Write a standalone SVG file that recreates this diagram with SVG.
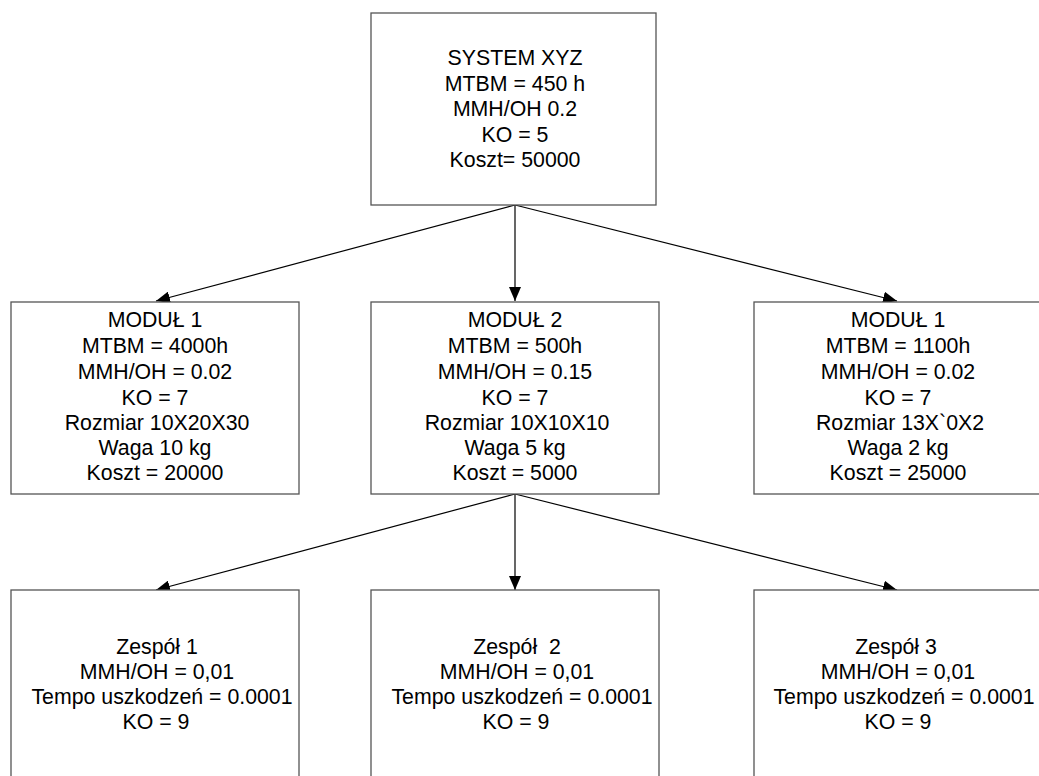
<svg xmlns="http://www.w3.org/2000/svg" width="1039" height="776" viewBox="0 0 1039 776">
<style>
.box{fill:#fff;stroke:#555;stroke-width:1.3}
.t{font-family:"Liberation Sans",Arial,sans-serif;font-size:21.3px;fill:#000;text-anchor:middle}
.c{stroke:#000;stroke-width:1.2;fill:none;marker-end:url(#ah)}
</style>
<defs>
<marker id="ah" markerUnits="userSpaceOnUse" markerWidth="14" markerHeight="12" viewBox="0 0 14 12" refX="14" refY="6" orient="auto">
<path d="M0,0 L14,6 L0,12 Z" fill="#000"/>
</marker>
</defs>
<rect width="1039" height="776" fill="#fff"/>
<g id="connectors">
<line class="c" x1="515" y1="205" x2="156" y2="301"/>
<line class="c" x1="515" y1="205" x2="515" y2="301"/>
<line class="c" x1="515" y1="205" x2="897" y2="301"/>
<line class="c" x1="515" y1="494" x2="156" y2="590"/>
<line class="c" x1="515" y1="494" x2="515" y2="590"/>
<line class="c" x1="515" y1="494" x2="897" y2="590"/>
</g>
<g id="system">
<rect class="box" x="371" y="13" width="285" height="192"/>
<text class="t" x="515" y="65">SYSTEM XYZ</text>
<text class="t" x="515" y="91">MTBM = 450 h</text>
<text class="t" x="515" y="116">MMH/OH 0.2</text>
<text class="t" x="515" y="142">KO = 5</text>
<text class="t" x="515" y="167">Koszt= 50000</text>
</g>
<g id="modul1">
<rect class="box" x="11" y="302" width="288" height="192"/>
<text class="t" x="155" y="327">MODUŁ 1</text>
<text class="t" x="155" y="353">MTBM = 4000h</text>
<text class="t" x="155" y="379">MMH/OH = 0.02</text>
<text class="t" x="155" y="405">KO = 7</text>
<text class="t" x="157" y="430">Rozmiar 10X20X30</text>
<text class="t" x="155" y="455">Waga 10 kg</text>
<text class="t" x="155" y="480">Koszt = 20000</text>
</g>
<g id="modul2">
<rect class="box" x="371" y="302" width="288" height="192"/>
<text class="t" x="515" y="327">MODUŁ 2</text>
<text class="t" x="515" y="353">MTBM = 500h</text>
<text class="t" x="515" y="379">MMH/OH = 0.15</text>
<text class="t" x="515" y="405">KO = 7</text>
<text class="t" x="517" y="430">Rozmiar 10X10X10</text>
<text class="t" x="515" y="455">Waga 5 kg</text>
<text class="t" x="515" y="480">Koszt = 5000</text>
</g>
<g id="modul3">
<rect class="box" x="754" y="302" width="288" height="192"/>
<text class="t" x="898" y="327">MODUŁ 1</text>
<text class="t" x="898" y="353">MTBM = 1100h</text>
<text class="t" x="898" y="379">MMH/OH = 0.02</text>
<text class="t" x="898" y="405">KO = 7</text>
<text class="t" x="900" y="430">Rozmiar 13X`0X2</text>
<text class="t" x="898" y="455">Waga 2 kg</text>
<text class="t" x="898" y="480">Koszt = 25000</text>
</g>
<g id="zespol1">
<rect class="box" x="11" y="590" width="288" height="200"/>
<text class="t" x="157" y="654">Zespół 1</text>
<text class="t" x="157" y="679">MMH/OH = 0,01</text>
<text class="t" x="162" y="704">Tempo uszkodzeń = 0.0001</text>
<text class="t" x="156" y="729">KO = 9</text>
</g>
<g id="zespol2">
<rect class="box" x="371" y="590" width="288" height="200"/>
<text class="t" x="517" y="654" xml:space="preserve">Zespół  2</text>
<text class="t" x="517" y="679">MMH/OH = 0,01</text>
<text class="t" x="522" y="704">Tempo uszkodzeń = 0.0001</text>
<text class="t" x="516" y="729">KO = 9</text>
</g>
<g id="zespol3">
<rect class="box" x="754" y="590" width="288" height="200"/>
<text class="t" x="896" y="654">Zespół 3</text>
<text class="t" x="898" y="679">MMH/OH = 0,01</text>
<text class="t" x="904" y="704">Tempo uszkodzeń = 0.0001</text>
<text class="t" x="898" y="729">KO = 9</text>
</g>
</svg>
